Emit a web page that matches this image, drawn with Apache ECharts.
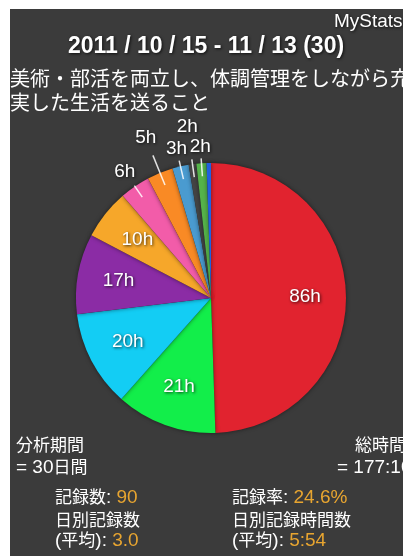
<!DOCTYPE html>
<html><head><meta charset="utf-8">
<script src="https://cdn.jsdelivr.net/npm/echarts@6/dist/echarts.min.js"></script>
<style>html,body{margin:0;padding:0;background:#fff}#c{width:403px;height:556px}</style>
</head><body><div id="c"></div>
<script>
// ---- data ----
const categories = ['項目1','項目2','項目3','項目4','項目5','項目6','項目7','項目8','項目9','項目10','項目11'];
const hours = [86.0, 21.0, 20.0, 16.7, 10.4, 6.3, 5.4, 3.4, 1.6, 2.1, 0.9];
const colors = ['#e1232f','#12ee4a','#13cdf4','#8b2ca5','#f6a72a','#f25ca9','#f98a25','#4a9bd0','#444444','#55b34a','#2060e0'];
const labelGroup = ['in','in','in','in','in','near','far','near','far','near2','none'];
const lineLength = [0,0,0,0,0,14,32,19,18,18,0];

const titleText = '2011 / 10 / 15 - 11 / 13 (30)';
const appName = 'MyStats';
const goalLine1 = '美術・部活を両立し、体調管理をしながら充';
const goalLine2 = '実した生活を送ること';
const statLabels = ['分析期間', '= 30日間', '総時間', '= 177:10'];
const summaryLabels = ['記録数: ', '記録率: ', '日別記録数', '日別記録時間数', '(平均): ', '(平均): '];
const summaryValues = ['90', '24.6%', '3.0', '5:54'];

const FONT = "'Liberation Sans','Noto Sans CJK JP',sans-serif";
const CENTER = [211, 298];
const ORANGE = '#e8a530';
const shadow = {textShadowColor:'rgba(0,0,0,0.75)', textShadowBlur:3, textShadowOffsetX:1, textShadowOffsetY:1};
const fmt = p => Math.round(p.value) + 'h';

const RICH = {
  c:{fill:'#fff', fontSize:17, fontFamily:FONT},
  l:{fill:'#fff', fontSize:19, fontFamily:FONT},
  v:{fill:ORANGE, fontSize:19, fontFamily:FONT}
};
function mixed(str, value) {
  const runs = str.match(/[\u3000-\u9fff\uff00-\uffef]+|[^\u3000-\u9fff\uff00-\uffef]+/g) || [];
  let s = runs.map(r => (/[\u3000-\u9fff\uff00-\uffef]/.test(r) ? '{c|' : '{l|') + r + '}').join('');
  if (value !== undefined) s += '{v|' + value + '}';
  return s;
}
function txt(x, y, str, value) {
  return {type:'text', x:x, y:y, style:{text:mixed(str, value), rich:RICH, verticalAlign:'middle', font:'17px '+FONT}};
}

function labelSeries(group, radius) {
  return {
    type:'pie', center:CENTER, radius:radius, startAngle:90, clockwise:true,
    silent:true, avoidLabelOverlap:false, animation:false, z:5,
    itemStyle:{color:'rgba(0,0,0,0)'},
    emphasis:{disabled:true},
    labelLayout:{hideOverlap:false},
    label:{show:true, position:'inside', formatter:fmt, color:'#fff', fontSize:19, fontFamily:FONT, ...shadow},
    labelLine:{show:false},
    data: hours.map((v,i)=>({name:categories[i], value:v, label:{show: labelGroup[i]===group}}))
  };
}

const chart = echarts.init(document.getElementById('c'));
chart.setOption({
  backgroundColor:'#ffffff',
  animation:false,
  graphic:[
    {type:'rect', shape:{x:10,y:9,width:393,height:547}, style:{fill:'#3b3b3b'}, z:-10},
    {type:'text', x:334, y:22, style:{text:appName, fill:'#fff', font:'19px '+FONT, verticalAlign:'middle', ...shadow}},
    {type:'text', x:206, y:47, style:{text:titleText, fill:'#fff', font:'bold 23px '+FONT, align:'center', verticalAlign:'middle', ...shadow}},
    {type:'text', x:10, y:80, style:{text:goalLine1, fill:'#fff', font:'20px '+FONT, verticalAlign:'middle'}},
    {type:'text', x:10, y:104, style:{text:goalLine2, fill:'#fff', font:'20px '+FONT, verticalAlign:'middle'}},
    txt(16, 446, statLabels[0]),
    txt(16, 468, statLabels[1]),
    txt(355, 446, statLabels[2]),
    txt(337, 468, statLabels[3]),
    txt(55, 498, summaryLabels[0], summaryValues[0]),
    txt(232, 498, summaryLabels[1], summaryValues[1]),
    txt(55, 521, summaryLabels[2]),
    txt(232, 521, summaryLabels[3]),
    txt(55, 541, summaryLabels[4], summaryValues[2]),
    txt(232, 541, summaryLabels[5], summaryValues[3])
  ],
  series:[
    {
      type:'pie', center:CENTER, radius:[0,135], startAngle:90, clockwise:true,
      silent:true, animation:false, z:2,
      itemStyle:{shadowBlur:4, shadowColor:'rgba(0,0,0,0.5)'},
      emphasis:{disabled:true},
      label:{show:false}, labelLine:{show:false},
      data: hours.map((v,i)=>({name:categories[i], value:v, itemStyle:{color:colors[i]}}))
    },
    {
      type:'pie', center:CENTER, radius:[0,122], startAngle:90, clockwise:true,
      silent:true, avoidLabelOverlap:false, animation:false, z:4,
      itemStyle:{color:'rgba(0,0,0,0)'},
      emphasis:{disabled:true},
      label:{show:true, position:'outside', formatter:' ', fontSize:4, distanceToLabelLine:0},
      labelLine:{show:true, length2:0, smooth:false, lineStyle:{color:'rgba(255,255,255,0.85)', width:1.5}},
      data: hours.map((v,i)=>({name:categories[i], value:v,
        label:{show: lineLength[i]>0}, labelLine:{show: lineLength[i]>0, length: lineLength[i]}}))
    },
    labelSeries('in', [0,182]),
    labelSeries('near', [0,300]),
    labelSeries('near2', [0,298]),
    labelSeries('far', [0,340])
  ]
});
</script></body></html>
